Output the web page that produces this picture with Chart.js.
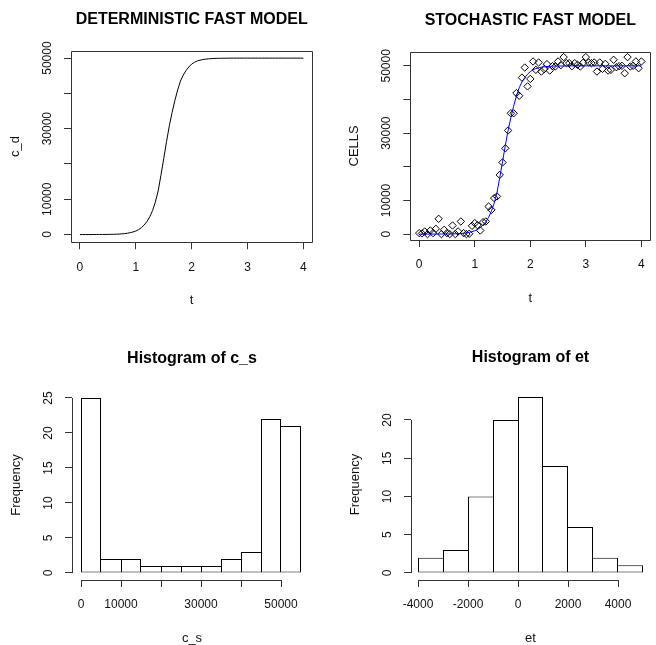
<!DOCTYPE html>
<html>
<head>
<meta charset="utf-8">
<script src="https://cdn.jsdelivr.net/npm/chart.js@4.4.0/dist/chart.umd.min.js"></script>
<style>
html, body { margin: 0; padding: 0; background: #fff; overflow: hidden; width: 656px; height: 645px; }
canvas { position: absolute; }
</style>
</head>
<body>
<canvas id="p1"></canvas>
<canvas id="p2"></canvas>
<canvas id="p3"></canvas>
<canvas id="p4"></canvas>
<script>
// time grid and the two series
const t = [0, 0.05, 0.1, 0.15, 0.2, 0.25, 0.3, 0.35, 0.4, 0.45,
  0.5, 0.55, 0.6, 0.65, 0.7, 0.75, 0.8, 0.85, 0.9, 0.95,
  1, 1.05, 1.1, 1.15, 1.2, 1.25, 1.3, 1.35, 1.4, 1.45,
  1.5, 1.55, 1.6, 1.65, 1.7, 1.75, 1.8, 1.85, 1.9, 1.95,
  2, 2.05, 2.1, 2.15, 2.2, 2.25, 2.3, 2.35, 2.4, 2.45,
  2.5, 2.55, 2.6, 2.65, 2.7, 2.75, 2.8, 2.85, 2.9, 2.95,
  3, 3.05, 3.1, 3.15, 3.2, 3.25, 3.3, 3.35, 3.4, 3.45,
  3.5, 3.55, 3.6, 3.65, 3.7, 3.75, 3.8, 3.85, 3.9, 3.95, 4];

const c_d = [0, 0, 0, 0, 0, 10, 10, 20, 20, 30,
  40, 50, 70, 100, 130, 180, 260, 370, 520, 730,
  1000, 1400, 1950, 2700, 3700, 5000, 6800, 9200, 12300, 16800,
  21500, 26300, 30800, 34600, 38000, 41000, 43500, 45200, 46500, 47500,
  48300, 48800, 49200, 49400, 49600, 49700, 49800, 49850, 49900, 49930,
  49950, 49960, 49970, 49980, 49990, 50000, 50000, 50000, 50000, 50000,
  50000, 50000, 50000, 50000, 50000, 50000, 50000, 50000, 50000, 50000,
  50000, 50000, 50000, 50000, 50000, 50000, 50000, 50000, 50000, 50000, 50000];

const c_s = [300, 200, 770, 0, 1070, 300, 1570, 4550, 0, 1270,
  300, 0, 2560, 0, 800, 3760, 300, 0, 100, 2460,
  3260, 2670, 1070, 3560, 3760, 8200, 7200, 10700, 11200, 17600,
  21300, 25500, 30800, 35900, 35900, 41900, 41100, 46500, 49500, 43900,
  46100, 51300, 48800, 51000, 48300, 49000, 50500, 48600, 49900, 49800,
  51300, 50200, 52600, 50800, 50800, 49900, 50800, 50300, 49800, 50900,
  52600, 51000, 50800, 51000, 48300, 51000, 49100, 50600, 48600, 48800,
  51800, 49600, 49900, 50000, 47800, 52600, 49800, 50000, 51300, 49300, 51300];

// histograms
const csBreaks = [0, 5000, 10000, 15000, 20000, 25000, 30000, 35000, 40000, 45000, 50000, 55000];
const csCounts = [25, 2, 2, 1, 1, 1, 1, 2, 3, 22, 21];
const etBreaks = [-4000, -3000, -2000, -1000, 0, 1000, 2000, 3000, 4000, 5000];
const etCounts = [2, 3, 10, 20, 23, 14, 6, 2, 1];

// ticks
const timeTicks = [0, 1, 2, 3, 4];
const timeLabels = ['0', '1', '2', '3', '4'];
const cellTicks = [0, 10000, 20000, 30000, 40000, 50000];
const cellLabels = ['0', '10000', '', '30000', '', '50000'];
const etTicks = [-4000, -2000, 0, 2000, 4000];
const etLabels = ['-4000', '-2000', '0', '2000', '4000'];
const csFreqTicks = [0, 5, 10, 15, 20, 25];
const etFreqTicks = [0, 5, 10, 15, 20];

const FONT = "'Liberation Sans', Arial, Helvetica, sans-serif";
Chart.defaults.font.family = FONT;
Chart.defaults.color = '#000';

function textWidth(labels, size) {
  const ctx = document.createElement('canvas').getContext('2d');
  ctx.font = size + 'px ' + FONT;
  return Math.max(...labels.map(s => ctx.measureText(s).width));
}

// R style frame: full box, or axis lines that only span the ticks
const rFrame = {
  id: 'rFrame',
  afterDraw(chart, args, opts) {
    const {ctx, chartArea: a} = chart;
    ctx.save();
    ctx.strokeStyle = '#333';
    ctx.lineWidth = 1;
    ctx.beginPath();
    if (opts.box) {
      ctx.rect(Math.round(a.left) + 0.5, Math.round(a.top) + 0.5,
        Math.round(a.right) - Math.round(a.left), Math.round(a.bottom) - Math.round(a.top));
    } else {
      const sx = chart.scales.x, sy = chart.scales.y;
      const x0 = sx.getPixelForValue(sx.ticks[0].value);
      const x1 = sx.getPixelForValue(sx.ticks[sx.ticks.length - 1].value);
      const yb = Math.round(a.bottom) + 0.5;
      ctx.moveTo(x0, yb); ctx.lineTo(x1, yb);
      const y0 = sy.getPixelForValue(sy.ticks[0].value);
      const y1 = sy.getPixelForValue(sy.ticks[sy.ticks.length - 1].value);
      const xl = Math.round(a.left) + 0.5;
      ctx.moveTo(xl, y0); ctx.lineTo(xl, y1);
    }
    ctx.stroke();
    ctx.restore();
  }
};

function edges(counts, i) {
  const prev = i > 0 ? counts[i - 1] : 0;
  const next = i < counts.length - 1 ? counts[i + 1] : 0;
  return {top: 1, bottom: 1, left: counts[i] >= prev ? 1 : 0, right: counts[i] > next ? 1 : 0};
}

function histData(breaks, counts) {
  return counts.map((c, i) => ({x: (breaks[i] + breaks[i + 1]) / 2, y: c}));
}

function rPanel(id, pos, area, cfg) {
  const L = area.L - pos.left, R = area.R - pos.left;
  const T = area.T - pos.top, B = area.B - pos.top;
  const W = pos.width, H = pos.height;
  const cv = document.getElementById(id);
  cv.width = W; cv.height = H;
  cv.style.left = pos.left + 'px';
  cv.style.top = pos.top + 'px';
  const tl = 7;
  const yPad = 23.5 - tl - textWidth(cfg.yLabels, 12) / 2;

  new Chart(cv, {
    type: cfg.type,
    data: {datasets: cfg.datasets},
    options: {
      responsive: false,
      animation: false,
      events: [],
      layout: {padding: {left: 0, top: 0, bottom: 0, right: W - R}},
      plugins: {
        legend: {display: false},
        tooltip: {enabled: false},
        title: {
          display: true, text: cfg.title, fullSize: false, color: '#000',
          font: {size: 16, weight: 'bold'},
          padding: {top: T - 31 - 9.6, bottom: 31 - 9.6}
        },
        rFrame: {box: cfg.box}
      },
      scales: {
        x: {
          type: 'linear', position: 'bottom', offset: false,
          min: cfg.xMin, max: cfg.xMax,
          afterFit: s => { s.height = H - B; },
          afterBuildTicks: s => { s.ticks = cfg.xTicks.map(v => ({value: v})); },
          ticks: {
            autoSkip: false, minRotation: 0, maxRotation: 0, padding: 10.8,
            font: {size: 12}, color: '#111',
            callback: (v, i) => cfg.xLabels[i]
          },
          grid: {offset: false, drawOnChartArea: false, drawTicks: true, tickLength: tl, color: '#333'},
          border: {display: false},
          title: {
            display: true, text: cfg.xTitle, color: '#111', font: {size: 13},
            padding: {top: 0, bottom: H - (B + 58.5) - 7.8}
          }
        },
        y: {
          type: 'linear', position: 'left',
          min: cfg.yMin, max: cfg.yMax,
          afterFit: s => { s.width = L; },
          afterBuildTicks: s => { s.ticks = cfg.yTicks.map(v => ({value: v})); },
          ticks: {
            autoSkip: false, minRotation: 90, maxRotation: 90, crossAlign: 'center',
            padding: yPad, font: {size: 12}, color: '#111',
            callback: (v, i) => cfg.yLabels[i]
          },
          grid: {drawOnChartArea: false, drawTicks: true, tickLength: tl, color: '#333'},
          border: {display: false},
          title: {
            display: true, text: cfg.yTitle, color: '#111', font: {size: 13},
            padding: {top: L - 55.5 - 7.8, bottom: 0}
          }
        }
      }
    },
    plugins: [rFrame]
  });
}

// top left: deterministic curve
rPanel('p1', {left: 0, top: 0, width: 328, height: 322}, {L: 71, R: 312.3, T: 50.7, B: 242.3}, {
  type: 'scatter', box: true,
  title: 'DETERMINISTIC FAST MODEL', xTitle: 't', yTitle: 'c_d',
  xMin: -0.16, xMax: 4.16, yMin: -2200, yMax: 52100,
  xTicks: timeTicks, xLabels: timeLabels, yTicks: cellTicks, yLabels: cellLabels,
  datasets: [{
    data: t.map((x, i) => ({x: x, y: c_d[i]})),
    showLine: true, borderColor: '#000', borderWidth: 1, pointRadius: 0, tension: 0
  }]
});

// top right: stochastic points + model line
rPanel('p2', {left: 328, top: 0, width: 328, height: 322}, {L: 410.3, R: 650.3, T: 51.7, B: 240}, {
  type: 'scatter', box: true,
  title: 'STOCHASTIC FAST MODEL', xTitle: 't', yTitle: 'CELLS',
  xMin: -0.16, xMax: 4.16, yMin: -1750, yMax: 54200,
  xTicks: timeTicks, xLabels: timeLabels, yTicks: cellTicks, yLabels: cellLabels,
  datasets: [{
    data: t.map((x, i) => ({x: x, y: c_d[i]})),
    showLine: true, borderColor: '#0000ff', borderWidth: 1, pointRadius: 0, tension: 0
  }, {
    data: t.map((x, i) => ({x: x, y: c_s[i]})),
    showLine: false, pointStyle: 'rectRot', pointRadius: 3.7,
    pointBorderColor: '#000', pointBackgroundColor: 'rgba(0,0,0,0)', pointBorderWidth: 1
  }]
});

// bottom left: histogram of c_s (scale chosen so bin edges fall on whole pixels)
rPanel('p3', {left: 0, top: 322, width: 328, height: 330}, {L: 72, R: 312, T: 390, B: 580}, {
  type: 'bar', box: false,
  title: 'Histogram of c_s', xTitle: 'c_s', yTitle: 'Frequency',
  xMin: -2250, xMax: 57750, yMin: -1, yMax: 26.142857,
  xTicks: cellTicks, xLabels: cellLabels, yTicks: csFreqTicks, yLabels: csFreqTicks.map(String),
  datasets: [{
    data: histData(csBreaks, csCounts),
    backgroundColor: '#fff', borderColor: '#000',
    borderWidth: ctx => edges(csCounts, ctx.dataIndex),
    borderSkipped: false, barPercentage: 1, categoryPercentage: 1, inflateAmount: 0
  }]
});

// bottom right: histogram of et (25 px per 1000 so bin edges are whole pixels)
rPanel('p4', {left: 328, top: 322, width: 328, height: 330}, {L: 411, R: 650, T: 389, B: 580}, {
  type: 'bar', box: false,
  title: 'Histogram of et', xTitle: 'et', yTitle: 'Frequency',
  xMin: -4280, xMax: 5280, yMin: -0.915, yMax: 24.05,
  xTicks: etTicks, xLabels: etLabels, yTicks: etFreqTicks, yLabels: etFreqTicks.map(String),
  datasets: [{
    data: histData(etBreaks, etCounts),
    backgroundColor: '#fff', borderColor: '#000',
    borderWidth: ctx => edges(etCounts, ctx.dataIndex),
    borderSkipped: false, barPercentage: 1, categoryPercentage: 1, inflateAmount: 0
  }]
});
</script>
</body>
</html>
